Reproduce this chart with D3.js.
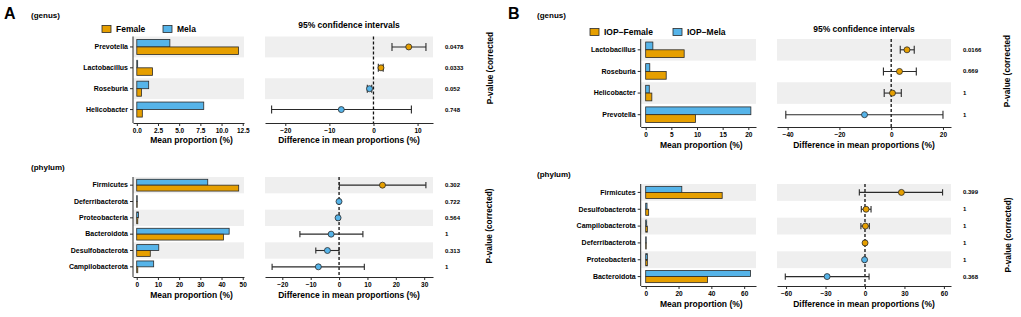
<!DOCTYPE html>
<html>
<head>
<meta charset="utf-8">
<script src="https://cdn.jsdelivr.net/npm/d3@7/dist/d3.min.js"></script>
<style>
  body { margin: 0; background: #fff; }
  svg { display: block; font-family: "Liberation Sans", Arial, sans-serif; font-weight: bold; }
</style>
</head>
<body>
<div id="root"></div>
<script>
// --- данные ---
const aGenusCats   = ['Prevotella', 'Lactobacillus', 'Roseburia', 'Helicobacter'];
const aGenusMela   = [3.9, 0.1, 1.4, 7.9];
const aGenusFemale = [12.0, 1.85, 0.55, 0.65];
const aGenusEst    = [8.0, 1.7, -0.9, -7.3];
const aGenusLo     = [4.2, 1.1, -1.4, -23.1];
const aGenusHi     = [11.9, 2.2, -0.4, 8.6];
const aGenusP      = ['0.0478', '0.0333', '0.052', '0.748'];

const aPhylumCats   = ['Firmicutes', 'Deferribacterota', 'Proteobacteria', 'Bacteroidota', 'Desulfobacterota', 'Campilobacterota'];
const aPhylumMela   = [33.5, 0.15, 0.8, 43.6, 10.4, 8.0];
const aPhylumFemale = [48.1, 0.1, 0.5, 40.9, 6.4, 0.5];
const aPhylumEst    = [15.3, -0.02, -0.35, -2.8, -4.1, -7.3];
const aPhylumLo     = [0.1, -0.3, -0.8, -13.8, -8.2, -23.6];
const aPhylumHi     = [30.6, 0.3, 0.1, 8.4, 0.0, 8.9];
const aPhylumP      = ['0.302', '0.722', '0.564', '1', '0.313', '1'];

const bGenusCats   = ['Lactobacillus', 'Roseburia', 'Helicobacter', 'Prevotella'];
const bGenusMela   = [1.4, 0.8, 0.7, 20.5];
const bGenusFemale = [7.5, 4.0, 1.2, 9.7];
const bGenusEst    = [6.1, 3.2, 0.5, -10.3];
const bGenusLo     = [3.5, -3.0, -2.7, -40.7];
const bGenusHi     = [8.9, 9.7, 3.9, 20.0];
const bGenusP      = ['0.0166', '0.669', '1', '1'];

const bPhylumCats   = ['Firmicutes', 'Desulfobacterota', 'Campilobacterota', 'Deferribacterota', 'Proteobacteria', 'Bacteroidota'];
const bPhylumMela   = [22.0, 0.8, 0.6, 0.1, 1.0, 63.9];
const bPhylumFemale = [46.6, 1.8, 1.0, 0.1, 1.0, 37.7];
const bPhylumEst    = [27.7, 0.8, 0.3, 0.05, -0.3, -28.8];
const bPhylumLo     = [-4.3, -2.8, -3.1, -0.5, -0.8, -60.6];
const bPhylumHi     = [59.0, 4.6, 3.3, 0.5, 0.3, 3.1];
const bPhylumP      = ['0.399', '1', '1', '1', '1', '0.368'];

const aGenusTicks  = [0, 2.5, 5, 7.5, 10, 12.5];
const aPhylumTicks = [0, 10, 20, 30, 40, 50];
const bGenusTicks  = [0, 5, 10, 15, 20];
const bPhylumTicks = [0, 20, 40, 60];
const aGenusCiTicks  = [-20, -10, 0, 10];
const aPhylumCiTicks = [-20, -10, 0, 10, 20, 30];
const bGenusCiTicks  = [-40, -20, 0, 20];
const bPhylumCiTicks = [-60, -30, 0, 30, 60];

const legendA = ['Female', 'Mela'];
const legendB = ['IOP\u2212Female', 'IOP\u2212Mela'];

// цвета
const ORANGE = '#E69F00';
const BLUE = '#56B4E9';
const BAND = '#EFEFEF';
const INK = '#2a2a2a';

const W = 1021, H = 317;
const svg = d3.select('#root').append('svg')
  .attr('width', W).attr('height', H)
  .attr('xmlns', 'http://www.w3.org/2000/svg');
svg.append('rect').attr('width', W).attr('height', H).attr('fill', '#fff');

function drawSection(d, L) {
  const rows = d.cats.map((c, i) => ({ c, i }));
  const y = d3.scaleBand().domain(d.cats).range([L.rowTop, L.rowBottom]);
  const bw = y.bandwidth();
  const bh = bw * 0.36;

  // ---- столбцы ----
  const x = d3.scaleLinear().domain(L.barDomain).range(L.barRange);
  const gb = svg.append('g');
  gb.selectAll('rect.band').data(rows.filter(r => r.i % 2 === 0)).join('rect')
    .attr('x', L.barRange[0]).attr('y', r => y(r.c))
    .attr('width', L.barRange[1] - L.barRange[0]).attr('height', bw)
    .attr('fill', BAND);

  rows.forEach(r => {
    const yc = y(r.c) + bw / 2;
    gb.append('rect')
      .attr('x', x(0)).attr('y', yc - bh)
      .attr('width', Math.max(0.5, x(d.mela[r.i]) - x(0))).attr('height', bh)
      .attr('fill', BLUE).attr('stroke', INK).attr('stroke-width', 0.8);
    gb.append('rect')
      .attr('x', x(0)).attr('y', yc)
      .attr('width', Math.max(0.5, x(d.female[r.i]) - x(0))).attr('height', bh)
      .attr('fill', ORANGE).attr('stroke', INK).attr('stroke-width', 0.8);
  });

  // ось Y (категории)
  const gy = gb.append('g')
    .attr('transform', `translate(${L.barRange[0]},0)`)
    .call(d3.axisLeft(y).tickSize(3).tickPadding(2).tickSizeOuter(0));
  gy.select('.domain').attr('d', `M0,${L.rowTop}V${L.axisY}`);
  gy.selectAll('line, .domain').attr('stroke', INK).attr('stroke-width', 1);
  gy.selectAll('text').attr('font-size', 7).attr('font-family', null).attr('fill', '#000');

  // ось X
  const gx = gb.append('g')
    .attr('transform', `translate(0,${L.axisY})`)
    .call(d3.axisBottom(x).tickValues(L.barTicks).tickFormat(L.barFmt).tickSize(3).tickPadding(2).tickSizeOuter(0));
  gx.selectAll('line, .domain').attr('stroke', INK).attr('stroke-width', 1);
  gx.selectAll('text').attr('font-size', 6.5).attr('font-family', null).attr('fill', '#000');

  svg.append('text')
    .attr('x', (L.barRange[0] + L.barRange[1]) / 2 + 3).attr('y', L.axisY + L.titleDy)
    .attr('text-anchor', 'middle').attr('font-size', 8.5).attr('fill', '#000')
    .text('Mean proportion (%)');

  // ---- доверительные интервалы ----
  const xc = d3.scaleLinear().domain(L.ciDomain).range(L.ciRange);
  const gc = svg.append('g');
  gc.selectAll('rect.band').data(rows.filter(r => r.i % 2 === 0)).join('rect')
    .attr('x', L.ciRange[0]).attr('y', r => y(r.c))
    .attr('width', L.ciRange[1] - L.ciRange[0]).attr('height', bw)
    .attr('fill', BAND);

  gc.append('line')
    .attr('x1', xc(0)).attr('x2', xc(0))
    .attr('y1', L.rowTop).attr('y2', L.axisY)
    .attr('stroke', '#111').attr('stroke-width', 1.3).attr('stroke-dasharray', '3,2');

  const cap = Math.min(8, bw * 0.38);
  rows.forEach(r => {
    const yc = y(r.c) + bw / 2;
    const x1 = xc(d.lo[r.i]), x2 = xc(d.hi[r.i]);
    gc.append('line').attr('x1', x1).attr('x2', x2).attr('y1', yc).attr('y2', yc)
      .attr('stroke', INK).attr('stroke-width', 1.1);
    [x1, x2].forEach(xx => gc.append('line')
      .attr('x1', xx).attr('x2', xx).attr('y1', yc - cap / 2).attr('y2', yc + cap / 2)
      .attr('stroke', INK).attr('stroke-width', 1.1));
    gc.append('circle')
      .attr('cx', xc(d.est[r.i])).attr('cy', yc).attr('r', 3)
      .attr('fill', d.est[r.i] > 0 ? ORANGE : BLUE)
      .attr('stroke', INK).attr('stroke-width', 0.8);
    // p-value
    svg.append('text')
      .attr('x', L.pX).attr('y', yc + 2)
      .attr('font-size', 6).attr('fill', '#000')
      .text(d.p[r.i]);
  });

  const gcx = gc.append('g')
    .attr('transform', `translate(0,${L.axisY})`)
    .call(d3.axisBottom(xc).tickValues(L.ciTicks).tickSize(3).tickPadding(2).tickSizeOuter(0));
  gcx.selectAll('line, .domain').attr('stroke', INK).attr('stroke-width', 1);
  gcx.selectAll('text').attr('font-size', 6.5).attr('font-family', null).attr('fill', '#000');

  svg.append('text')
    .attr('x', (L.ciRange[0] + L.ciRange[1]) / 2).attr('y', L.axisY + L.titleDy)
    .attr('text-anchor', 'middle').attr('font-size', 8.5).attr('fill', '#000')
    .text('Difference in mean proportions (%)');

  // подпись P-value (повёрнута)
  svg.append('text')
    .attr('transform', `translate(${L.pvX},${L.pvY}) rotate(-90)`)
    .attr('text-anchor', 'middle').attr('font-size', 8.3).attr('fill', '#000')
    .attr('dy', '0.35em')
    .text(L.pvText);

  if (L.ciTitleY) {
    svg.append('text')
      .attr('x', (L.ciRange[0] + L.ciRange[1]) / 2).attr('y', L.ciTitleY)
      .attr('text-anchor', 'middle').attr('font-size', 8.5).attr('fill', '#000')
      .text('95% confidence intervals');
  }
}

function drawLegend(names, x0, x1, yc) {
  [[names[0], ORANGE, x0], [names[1], BLUE, x1]].forEach(([n, col, xx]) => {
    svg.append('rect').attr('x', xx).attr('y', yc - 3.5).attr('width', 9).attr('height', 7)
      .attr('fill', col).attr('stroke', INK).attr('stroke-width', 0.8);
    svg.append('text').attr('x', xx + 14).attr('y', yc + 3)
      .attr('font-size', 8.5).attr('fill', '#000').text(n);
  });
}

function label(txt, x, y, size) {
  svg.append('text').attr('x', x).attr('y', y).attr('font-size', size).attr('fill', '#000').text(txt);
}

// --- A ---
drawSection(
  { cats: aGenusCats, mela: aGenusMela, female: aGenusFemale, est: aGenusEst, lo: aGenusLo, hi: aGenusHi, p: aGenusP },
  { rowTop: 36.5, rowBottom: 120, axisY: 123, titleDy: 20,
    barRange: [133, 244], barDomain: [-0.45, 12.65], barTicks: aGenusTicks, barFmt: d3.format('.1f'),
    ciRange: [265, 433], ciDomain: [-24.6, 13.5], ciTicks: aGenusCiTicks,
    pX: 445, pvX: 490, pvY: 68, pvText: 'P-value (corrected', ciTitleY: 28 });
drawSection(
  { cats: aPhylumCats, mela: aPhylumMela, female: aPhylumFemale, est: aPhylumEst, lo: aPhylumLo, hi: aPhylumHi, p: aPhylumP },
  { rowTop: 177, rowBottom: 275, axisY: 277, titleDy: 21,
    barRange: [133, 244], barDomain: [-1.75, 50.6], barTicks: aPhylumTicks, barFmt: d3.format('d'),
    ciRange: [265, 433], ciDomain: [-26.1, 33.1], ciTicks: aPhylumCiTicks,
    pX: 445, pvX: 489, pvY: 226, pvText: 'P-value (corrected)' });
drawLegend(legendA, 102, 163, 29);
label('A', 4, 19, 16);
label('(genus)', 31, 18, 8);
label('(phylum)', 31, 170, 8);

// --- B ---
drawSection(
  { cats: bGenusCats, mela: bGenusMela, female: bGenusFemale, est: bGenusEst, lo: bGenusLo, hi: bGenusHi, p: bGenusP },
  { rowTop: 39, rowBottom: 125.5, axisY: 127, titleDy: 21,
    barRange: [640.7, 756], barDomain: [-0.97, 21.5], barTicks: bGenusTicks, barFmt: d3.format('d'),
    ciRange: [777, 951], ciDomain: [-44.1, 23.1], ciTicks: bGenusCiTicks,
    pX: 963, pvX: 1007, pvY: 71, pvText: 'P-value (corrected', ciTitleY: 31.5 });
drawSection(
  { cats: bPhylumCats, mela: bPhylumMela, female: bPhylumFemale, est: bPhylumEst, lo: bPhylumLo, hi: bPhylumHi, p: bPhylumP },
  { rowTop: 184, rowBottom: 285, axisY: 286, titleDy: 21,
    barRange: [640.7, 756], barDomain: [-3.05, 67.2], barTicks: bPhylumTicks, barFmt: d3.format('d'),
    ciRange: [777, 951], ciDomain: [-66.9, 65.4], ciTicks: bPhylumCiTicks,
    pX: 963, pvX: 1008, pvY: 235, pvText: 'P-value (corrected)' });
drawLegend(legendB, 590, 673, 32);
label('B', 508, 19, 16);
label('(genus)', 537, 18, 8);
label('(phylum)', 537, 177, 8);
</script>
</body>
</html>
